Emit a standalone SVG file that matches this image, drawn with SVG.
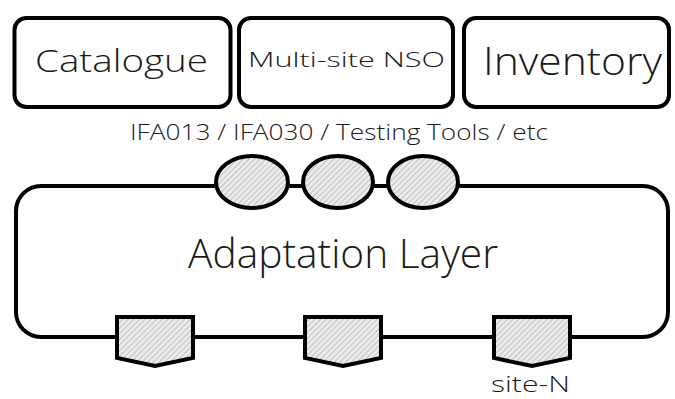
<svg xmlns="http://www.w3.org/2000/svg" width="675" height="399" viewBox="0 0 675 399">
  <defs>
    <pattern id="hatch" width="4" height="4" patternUnits="userSpaceOnUse" patternTransform="rotate(45)">
      <rect width="4" height="4" fill="#ececec"/>
      <line x1="0" y1="0" x2="0" y2="4" stroke="#a8a8a8" stroke-width="1.3"/>
    </pattern>
  </defs>
  <style>
    .box { fill: #ffffff; stroke: #000000; stroke-width: 4; }
    .port { fill: url(#hatch); stroke: #000000; stroke-width: 4; stroke-linejoin: miter; }
    .lbl { font-family: "Open Sans", "Liberation Sans", sans-serif; font-weight: 300; fill: #1a1a1a; text-anchor: middle; }
  </style>
  <rect width="675" height="399" fill="#ffffff"/>

  <!-- top-level services -->
  <g id="catalogue">
    <rect class="box" x="14.5" y="18" width="216" height="89" rx="12"/>
    <text class="lbl" x="121.5" y="72" font-size="32" textLength="173" lengthAdjust="spacingAndGlyphs">Catalogue</text>
  </g>
  <g id="multi-site-nso">
    <rect class="box" x="239" y="18" width="214" height="89" rx="12"/>
    <text class="lbl" x="346.5" y="67" font-size="21" textLength="197" lengthAdjust="spacingAndGlyphs">Multi-site NSO</text>
  </g>
  <g id="inventory">
    <rect class="box" x="464" y="18" width="205" height="89" rx="12"/>
    <text class="lbl" x="572.5" y="75" font-size="38" textLength="179" lengthAdjust="spacingAndGlyphs">Inventory</text>
  </g>

  <text class="lbl" x="339" y="140" font-size="22" textLength="418" lengthAdjust="spacingAndGlyphs">IFA013 / IFA030 / Testing Tools / etc</text>

  <!-- adaptation layer body -->
  <g id="adaptation-layer">
    <rect class="box" x="16" y="186" width="652" height="151" rx="25"/>
    <text class="lbl" x="343" y="268" font-size="40" textLength="310" lengthAdjust="spacingAndGlyphs">Adaptation Layer</text>
  </g>

  <!-- northbound interfaces -->
  <g id="nbi-1"><ellipse class="port" cx="252" cy="182" rx="36" ry="26"/></g>
  <g id="nbi-2"><ellipse class="port" cx="338" cy="182" rx="35" ry="26"/></g>
  <g id="nbi-3"><ellipse class="port" cx="423" cy="182" rx="35" ry="26"/></g>

  <!-- southbound site adapters -->
  <g id="site-1"><polygon class="port" points="117,317 193,317 193,358 155,366 117,358"/></g>
  <g id="site-2"><polygon class="port" points="305,317 381,317 381,358 343,366 305,358"/></g>
  <g id="site-n">
    <polygon class="port" points="494,317 570,317 570,358 532,366 494,358"/>
    <text class="lbl" x="530.5" y="392" font-size="22" textLength="79" lengthAdjust="spacingAndGlyphs">site-N</text>
  </g>

  <g id="connectors"/>
</svg>
